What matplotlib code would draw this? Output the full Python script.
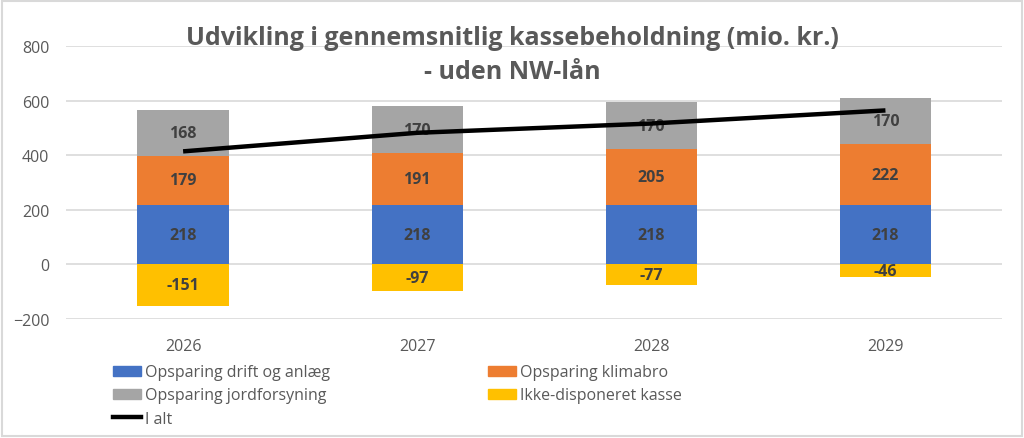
import matplotlib.pyplot as plt
from matplotlib.patches import Patch, Rectangle
from matplotlib.lines import Line2D

plt.rcParams['font.family'] = ['Open Sans', 'DejaVu Sans']

# data
years = ['2026', '2027', '2028', '2029']
drift = [218, 218, 218, 218]
klimabro = [179, 191, 205, 222]
jord = [168, 170, 170, 170]
kasse = [-151, -97, -77, -46]
i_alt = [414, 482, 516, 564]

c_blue = '#4472C4'
c_orange = '#ED7D31'
c_gray = '#A5A5A5'
c_yellow = '#FFC000'
txt = '#404040'

fig = plt.figure(figsize=(10.24, 4.39), dpi=100)
ax = fig.add_axes([0.0645, 0.271, 0.9145, 0.622])

x = range(len(years))
w = 0.39
bottom2 = drift
bottom3 = [a + b for a, b in zip(drift, klimabro)]
ax.bar(x, drift, w, color=c_blue, zorder=2)
ax.bar(x, klimabro, w, bottom=bottom2, color=c_orange, zorder=2)
ax.bar(x, jord, w, bottom=bottom3, color=c_gray, zorder=2)
ax.bar(x, kasse, w, color=c_yellow, zorder=2)
ax.plot(x, i_alt, color='black', lw=3.2, solid_capstyle='butt', zorder=3)

for i in x:
    ax.text(i, drift[i] / 2, str(drift[i]), ha='center', va='center',
            fontsize=11.5, fontweight='bold', color=txt, zorder=4)
    ax.text(i, bottom2[i] + klimabro[i] / 2, str(klimabro[i]), ha='center', va='center',
            fontsize=11.5, fontweight='bold', color=txt, zorder=4)
    ax.text(i, bottom3[i] + jord[i] / 2, str(jord[i]), ha='center', va='center',
            fontsize=11.5, fontweight='bold', color=txt, zorder=2.5)
    ax.text(i, kasse[i] / 2, str(kasse[i]), ha='center', va='center',
            fontsize=11.5, fontweight='bold', color=txt, zorder=4)

ax.set_xlim(-0.5, 3.5)
ax.set_ylim(-200, 800)
ax.set_yticks([-200, 0, 200, 400, 600, 800])
ax.set_xticks(list(x))
ax.set_xticklabels(years)
ax.grid(axis='y', color='#D9D9D9', lw=1.2, zorder=0)
ax.set_axisbelow(True)
for s in ax.spines.values():
    s.set_visible(False)
ax.tick_params(length=0, labelsize=11.5, labelcolor='#595959')
ax.tick_params(axis='x', pad=14)
ax.tick_params(axis='y', pad=12)

fig.text(0.5, 0.873, 'Udvikling i gennemsnitlig kassebeholdning (mio. kr.)\n- uden NW-lån',
         ha='center', va='center', fontsize=18, fontweight='bold', color='#595959',
         linespacing=1.45, zorder=5)

handles = [Patch(color=c_blue), Patch(color=c_gray),
           Line2D([], [], color='black', lw=3.2),
           Patch(color=c_orange), Patch(color=c_yellow)]
labels = ['Opsparing drift og anlæg', 'Opsparing jordforsyning', 'I alt',
          'Opsparing klimabro', 'Ikke-disponeret kasse']
fig.legend(handles, labels, ncol=2, loc='upper left', bbox_to_anchor=(0.11, 0.168),
           frameon=False, fontsize=11.5, labelcolor='#595959', handlelength=1.8,
           handleheight=0.6, handletextpad=0.2, columnspacing=9.9,
           labelspacing=0.45, borderpad=0, borderaxespad=0)

fig.patches.append(Rectangle((0.002, 0.004), 0.996, 0.992, transform=fig.transFigure,
                             fill=False, edgecolor='#D9D9D9', lw=1.5))

fig.savefig('out.png', dpi=100)
